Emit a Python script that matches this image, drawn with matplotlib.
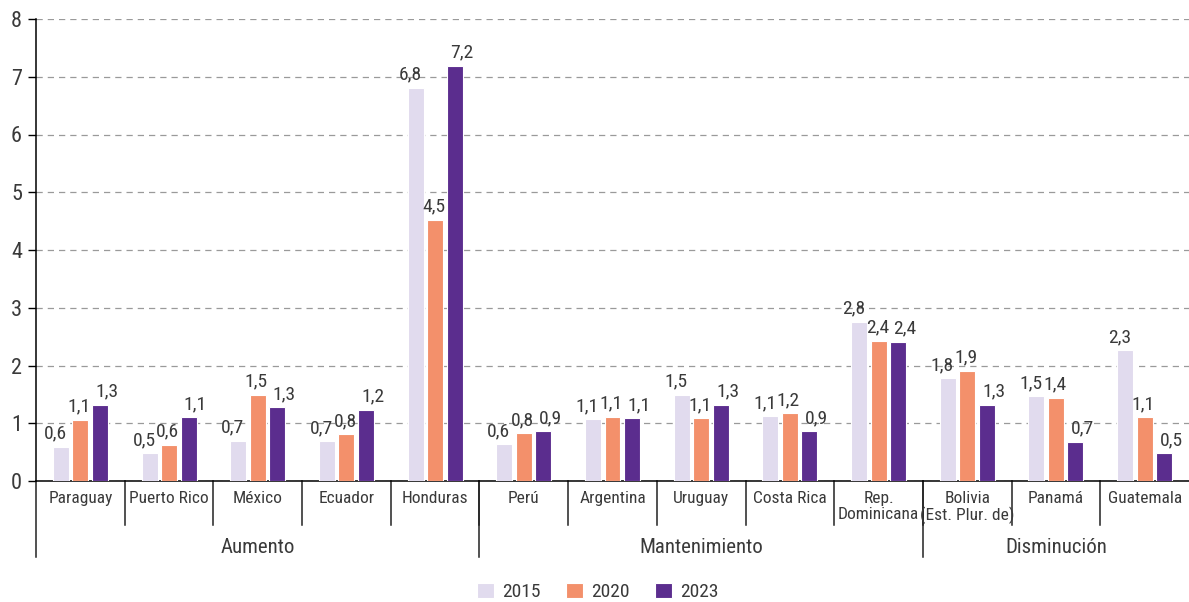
import matplotlib
matplotlib.use("Agg")
import matplotlib.pyplot as plt
from matplotlib import font_manager as fm
import numpy as np

names = {f.name for f in fm.fontManager.ttflist}
cands = ["Roboto Condensed", "IBM Plex Sans Condensed", "Liberation Sans Narrow", "Roboto", "DejaVu Sans"]
fam = [f for f in cands if f in names][:1] + ["DejaVu Sans"]
plt.rcParams['font.family'] = fam

categories = ["Paraguay", "Puerto Rico", "México", "Ecuador", "Honduras",
              "Perú", "Argentina", "Uruguay", "Costa Rica", "Rep.\nDominicana",
              "Bolivia\n(Est. Plur. de)", "Panamá", "Guatemala"]
groups = ["Aumento", "Mantenimiento", "Disminución"]
group_sizes = [5, 5, 3]
years = ["2015", "2020", "2023"]
v2015 = [0.59, 0.48, 0.70, 0.69, 6.81, 0.64, 1.07, 1.49, 1.12, 2.76, 1.78, 1.47, 2.26]
v2020 = [1.06, 0.63, 1.49, 0.81, 4.52, 0.83, 1.11, 1.09, 1.17, 2.43, 1.91, 1.44, 1.10]
v2023 = [1.32, 1.10, 1.28, 1.23, 7.19, 0.86, 1.09, 1.32, 0.86, 2.41, 1.32, 0.68, 0.48]
colors = ["#E1DBEE", "#F3906B", "#5B2D8E"]

W, H = 1189, 602
fig = plt.figure(figsize=(W/100, H/100), dpi=100)
ax = fig.add_axes([36/W, 1-481/H, (1189-36)/W, (481-19)/H])

n = len(categories)
x = np.arange(n)
bw = 0.18
step = 0.22
series = [v2015, v2020, v2023]
label_dx = [-4, -1, 5]  # horizontal nudges (points) of value labels
txtc = "#3a3a3a"
for i, (vals, c, yr) in enumerate(zip(series, colors, years)):
    xs = x + (i-1)*step
    ax.bar(xs, vals, width=bw, color=c, edgecolor="white", linewidth=0.8, label=yr, zorder=3)
    for xx, v in zip(xs, vals):
        ax.annotate(f"{v:.1f}".replace(".", ","), (xx, v), xytext=(label_dx[i], 3),
                    textcoords="offset points", ha="center", va="bottom",
                    fontsize=14, color=txtc, zorder=4)

ax.set_xlim(-0.5, n-0.5)
ax.set_ylim(0, 8)
ax.set_yticks(range(0, 9))
ax.yaxis.grid(True, linestyle=(0, (5, 4)), color="#9a9a9a", linewidth=0.9, zorder=0)
ax.set_axisbelow(True)
ax.tick_params(axis="y", labelsize=16, length=6, width=1, direction="out", pad=4,
               colors="black", labelcolor=txtc)
ax.set_xticks([])
for s in ["top", "right"]:
    ax.spines[s].set_visible(False)
for s in ["left", "bottom"]:
    ax.spines[s].set_color("black")
    ax.spines[s].set_linewidth(1.1)

trans = ax.get_xaxis_transform()
for xi, cat in zip(x, categories):
    ax.text(xi, -10/462, cat, transform=trans, ha="center", va="top",
            fontsize=12.5, color=txtc, linespacing=1.08)
for b in range(1, n):
    ax.plot([b-0.5, b-0.5], [0, -44/462], transform=trans, color="#222222",
            lw=1.1, clip_on=False)
start = 0
bounds = [0]
for gs in group_sizes:
    start += gs
    bounds.append(start)
for b in bounds[:-1]:
    ax.plot([b-0.5, b-0.5], [0, -76/462], transform=trans, color="#222222",
            lw=1.1, clip_on=False)
for g, a, b in zip(groups, bounds[:-1], bounds[1:]):
    ax.text((a+b-1)/2, -57/462, g, transform=trans, ha="center", va="top",
            fontsize=15, color=txtc)

leg = fig.legend(loc="center", bbox_to_anchor=(598/W, 1-592/H), ncol=3, frameon=False,
                 fontsize=14, handlelength=0.85, handleheight=0.85, columnspacing=1.3,
                 handletextpad=0.45, borderaxespad=0, borderpad=0)
for t in leg.get_texts():
    t.set_color(txtc)

fig.savefig("out.png", dpi=100)
